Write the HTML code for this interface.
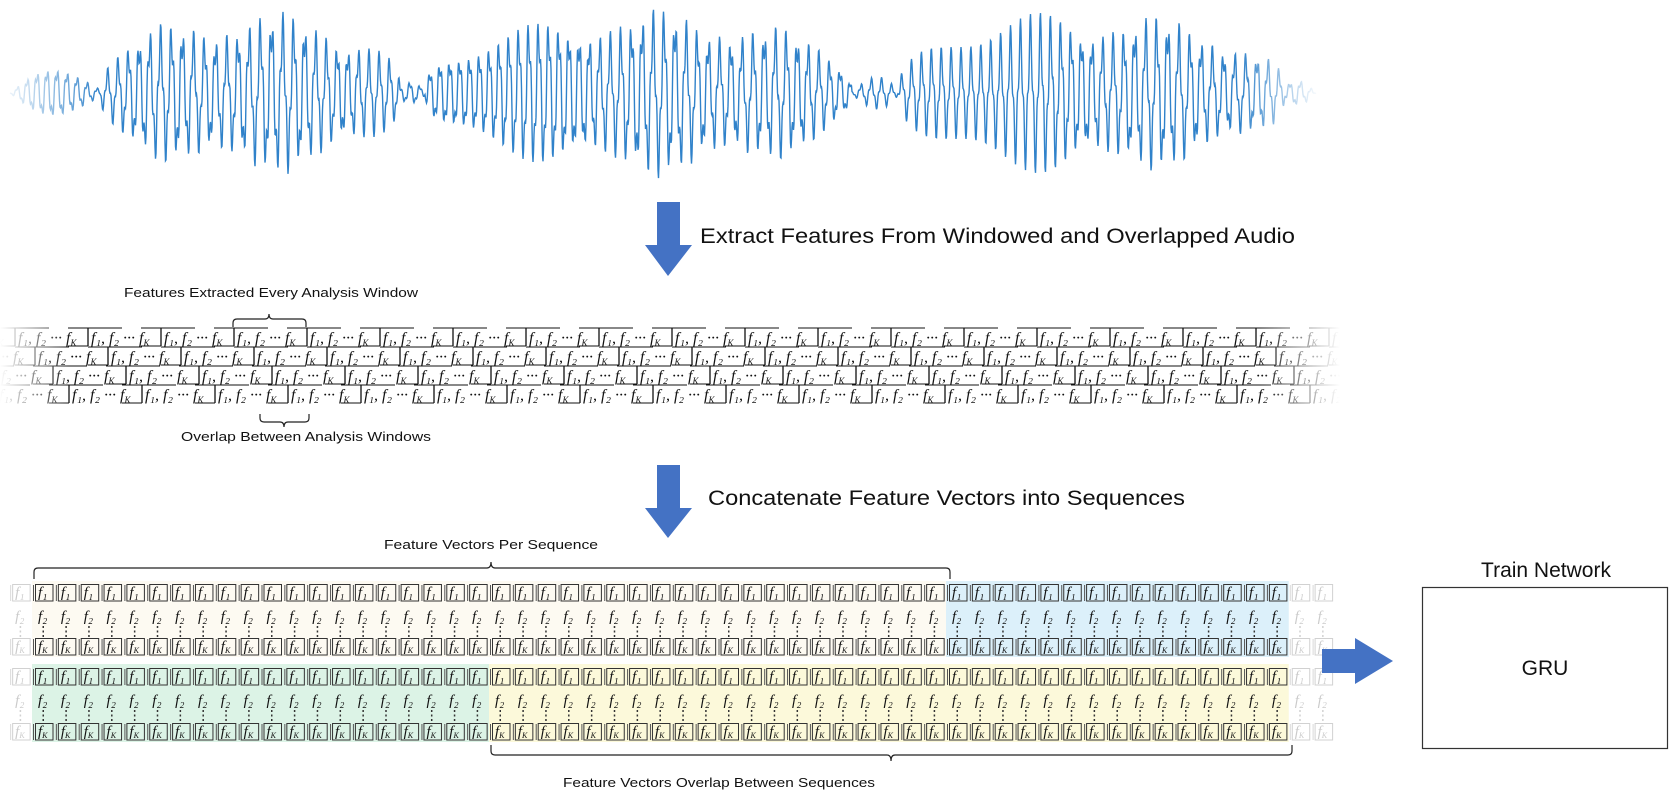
<!DOCTYPE html>
<html><head><meta charset="utf-8">
<style>
html,body{margin:0;padding:0;background:#fff;}
svg{display:block;}
.lab{font-family:"Liberation Sans",sans-serif;fill:#111;}
.m{font-family:"Liberation Serif",serif;font-style:italic;fill:#111;}
</style></head>
<body>
<svg id="s" width="1671" height="795" viewBox="0 0 1671 795" xmlns="http://www.w3.org/2000/svg">
<defs>
<linearGradient id="fadeL" x1="0" x2="1"><stop offset="0" stop-color="#fff" stop-opacity="1"/><stop offset="1" stop-color="#fff" stop-opacity="0"/></linearGradient>
<linearGradient id="fadeR" x1="0" x2="1"><stop offset="0" stop-color="#fff" stop-opacity="0"/><stop offset="1" stop-color="#fff" stop-opacity="1"/></linearGradient>
</defs>
<g id="wave"></g>
<polygon points="657,202 680,202 680,245 692,245 668,276 645,245 657,245" fill="#4472c4"/>
<text class="lab" x="700" y="243" font-size="21" textLength="595" lengthAdjust="spacingAndGlyphs">Extract Features From Windowed and Overlapped Audio</text>
<polygon points="657,465 680,465 680,508 692,508 668,538 645,508 657,508" fill="#4472c4"/>
<text class="lab" x="708" y="505" font-size="21" textLength="477" lengthAdjust="spacingAndGlyphs">Concatenate Feature Vectors into Sequences</text>
<g id="top"></g>
<text class="lab" x="124" y="297" font-size="13" textLength="294" lengthAdjust="spacingAndGlyphs">Features Extracted Every Analysis Window</text>
<path d="M233,327 v-4 q0,-4 4,-4 h28 q4,0 4,-5 q0,5 4,5 h29 q4,0 4,4 v4" fill="none" stroke="#222" stroke-width="1.2"/>
<path d="M260,414 v4 q0,4 4,4 h16 q4,0 4,5 q0,-5 4,-5 h17 q4,0 4,-4 v-4" fill="none" stroke="#222" stroke-width="1.2"/>
<text class="lab" x="181" y="441" font-size="13" textLength="250" lengthAdjust="spacingAndGlyphs">Overlap Between Analysis Windows</text>
<g id="bot"></g>
<text class="lab" x="384" y="549" font-size="13" textLength="214" lengthAdjust="spacingAndGlyphs">Feature Vectors Per Sequence</text>
<path d="M34,579 v-7 q0,-4 4,-4 h449 q4,0 4,-6 q0,6 4,6 h451 q4,0 4,4 v7" fill="none" stroke="#222" stroke-width="1.2"/>
<path d="M491,745 v6 q0,4 4,4 h392 q4,0 4,6 q0,-6 4,-6 h393 q4,0 4,-4 v-6" fill="none" stroke="#222" stroke-width="1.2"/>
<text class="lab" x="563" y="787" font-size="13" textLength="312" lengthAdjust="spacingAndGlyphs">Feature Vectors Overlap Between Sequences</text>
<polygon points="1322,649 1355,649 1355,638 1393,661 1355,684 1355,673 1322,673" fill="#4472c4"/>
<text class="lab" x="1546" y="577" font-size="21" text-anchor="middle">Train Network</text>
<rect x="1422.5" y="587.5" width="245" height="161" fill="#fff" stroke="#333" stroke-width="1.2"/>
<text class="lab" x="1545" y="675" font-size="21" text-anchor="middle">GRU</text>
</svg>
<script>
var NS="http://www.w3.org/2000/svg";
function el(p,t,a,txt){var e=document.createElementNS(NS,t);for(var k in a)e.setAttribute(k,a[k]);if(txt!=null)e.textContent=txt;p.appendChild(e);return e;}
(function(){
 var g=document.getElementById('wave');
 function env(x){
  function lobe(a,b,h,p){if(x<a||x>b)return 0;var t=(x-a)/(b-a);return h*Math.pow(Math.sin(Math.PI*t),p);}
  return Math.max(lobe(100,400,84,0.35),lobe(425,852,86,0.35),lobe(898,1285,84,0.4),lobe(850,900,20,1),lobe(394,428,12,1),lobe(1278,1316,14,1),lobe(10,105,30,1));
 }
 var d='';var cy=93;
 for(var x=10;x<=1316;x+=0.5){
  var e=env(x);
  var y=cy+e*(0.75*Math.sin(x*0.6+Math.sin(x*0.013)*3)+0.25*Math.sin(x*1.9+1))*(0.85+0.15*Math.sin(x*0.05));
  d+=(d?'L':'M')+x.toFixed(1)+','+y.toFixed(1);
 }
 el(g,'path',{d:d,fill:'none',stroke:'#1a74c4','stroke-width':1.4,'stroke-opacity':0.9});
 el(g,'rect',{x:0,y:0,width:100,height:190,fill:'url(#fadeL)'});
 el(g,'rect',{x:1240,y:0,width:80,height:190,fill:'url(#fadeR)'});
})();
(function(){
 var g=document.getElementById('top');
 var rows=[{y:343,o:1037},{y:362,o:1057},{y:381,o:1075},{y:400,o:1018}];
 rows.forEach(function(r){
  var x0=r.o%73-73;
  for(var x=x0;x<1380;x+=73){
   var gg=el(g,'g',{});
   el(gg,'line',{x1:x,y1:r.y-15,x2:x,y2:r.y+3,stroke:'#111','stroke-width':1.3});
   el(gg,'line',{x1:x-20,y1:r.y-15,x2:x+34,y2:r.y-15,stroke:'#111','stroke-width':1});
   el(gg,'line',{x1:x-20,y1:r.y+3,x2:x,y2:r.y+3,stroke:'#111','stroke-width':1});
   var t=el(gg,'text',{x:x+3,y:r.y,'font-size':16,'class':'m'},'f₁, f₂ ··· f');
   var ts=el(t,'tspan',{'font-size':9,dy:3},'K');
  }
 });
 el(g,'rect',{x:0,y:320,width:70,height:88,fill:'url(#fadeL)'});
 el(g,'rect',{x:1260,y:320,width:80,height:88,fill:'url(#fadeR)'});
 el(g,'rect',{x:1340,y:320,width:100,height:88,fill:'#fff'});
})();
(function(){
 var g=document.getElementById('bot');
 var P=22.85,X0=32;
 el(g,'rect',{x:X0,y:581,width:40*P,height:76,fill:'#fdfaf2'});
 el(g,'rect',{x:X0+40*P,y:581,width:15*P,height:76,fill:'#dcf0fa'});
 el(g,'rect',{x:X0,y:664,width:20*P,height:78,fill:'#dcf3e6'});
 el(g,'rect',{x:X0+20*P,y:664,width:35*P,height:78,fill:'#fcf9da'});
 [[0,0],[84,85]].forEach(function(o){
  var dy=o[0],dk=o[1];
  for(var i=-1;i<57;i++){
   var x=X0+i*P;
   var op=(i<0||i>=55)?0.22:1;
   var gg=el(g,'g',{opacity:op});
   [584+dy,638+dk].forEach(function(y){
    el(gg,'rect',{x:x+3.5,y:y+0.5,width:17.5,height:16.5,fill:'none',stroke:'#333','stroke-width':1});
    el(gg,'line',{x1:x+1.5,y1:y+1,x2:x+1.5,y2:y+17,stroke:'#555','stroke-width':1});
   });
   el(gg,'text',{x:x+6,y:597+dy,'font-size':15,'class':'m'},'f₁');
   el(gg,'text',{x:x+6,y:621+dy,'font-size':15,'class':'m'},'f₂');
   var t=el(gg,'text',{x:x+6,y:651+dk,'font-size':15,'class':'m'},'f');
   el(t,'tspan',{'font-size':8,dy:2},'K');
   for(var k=0;k<3;k++)el(gg,'rect',{x:x+10.5,y:626+dy+k*4.5,width:1.5,height:2,fill:'#333'});
  }
 });
})();
</script>
</body></html>
